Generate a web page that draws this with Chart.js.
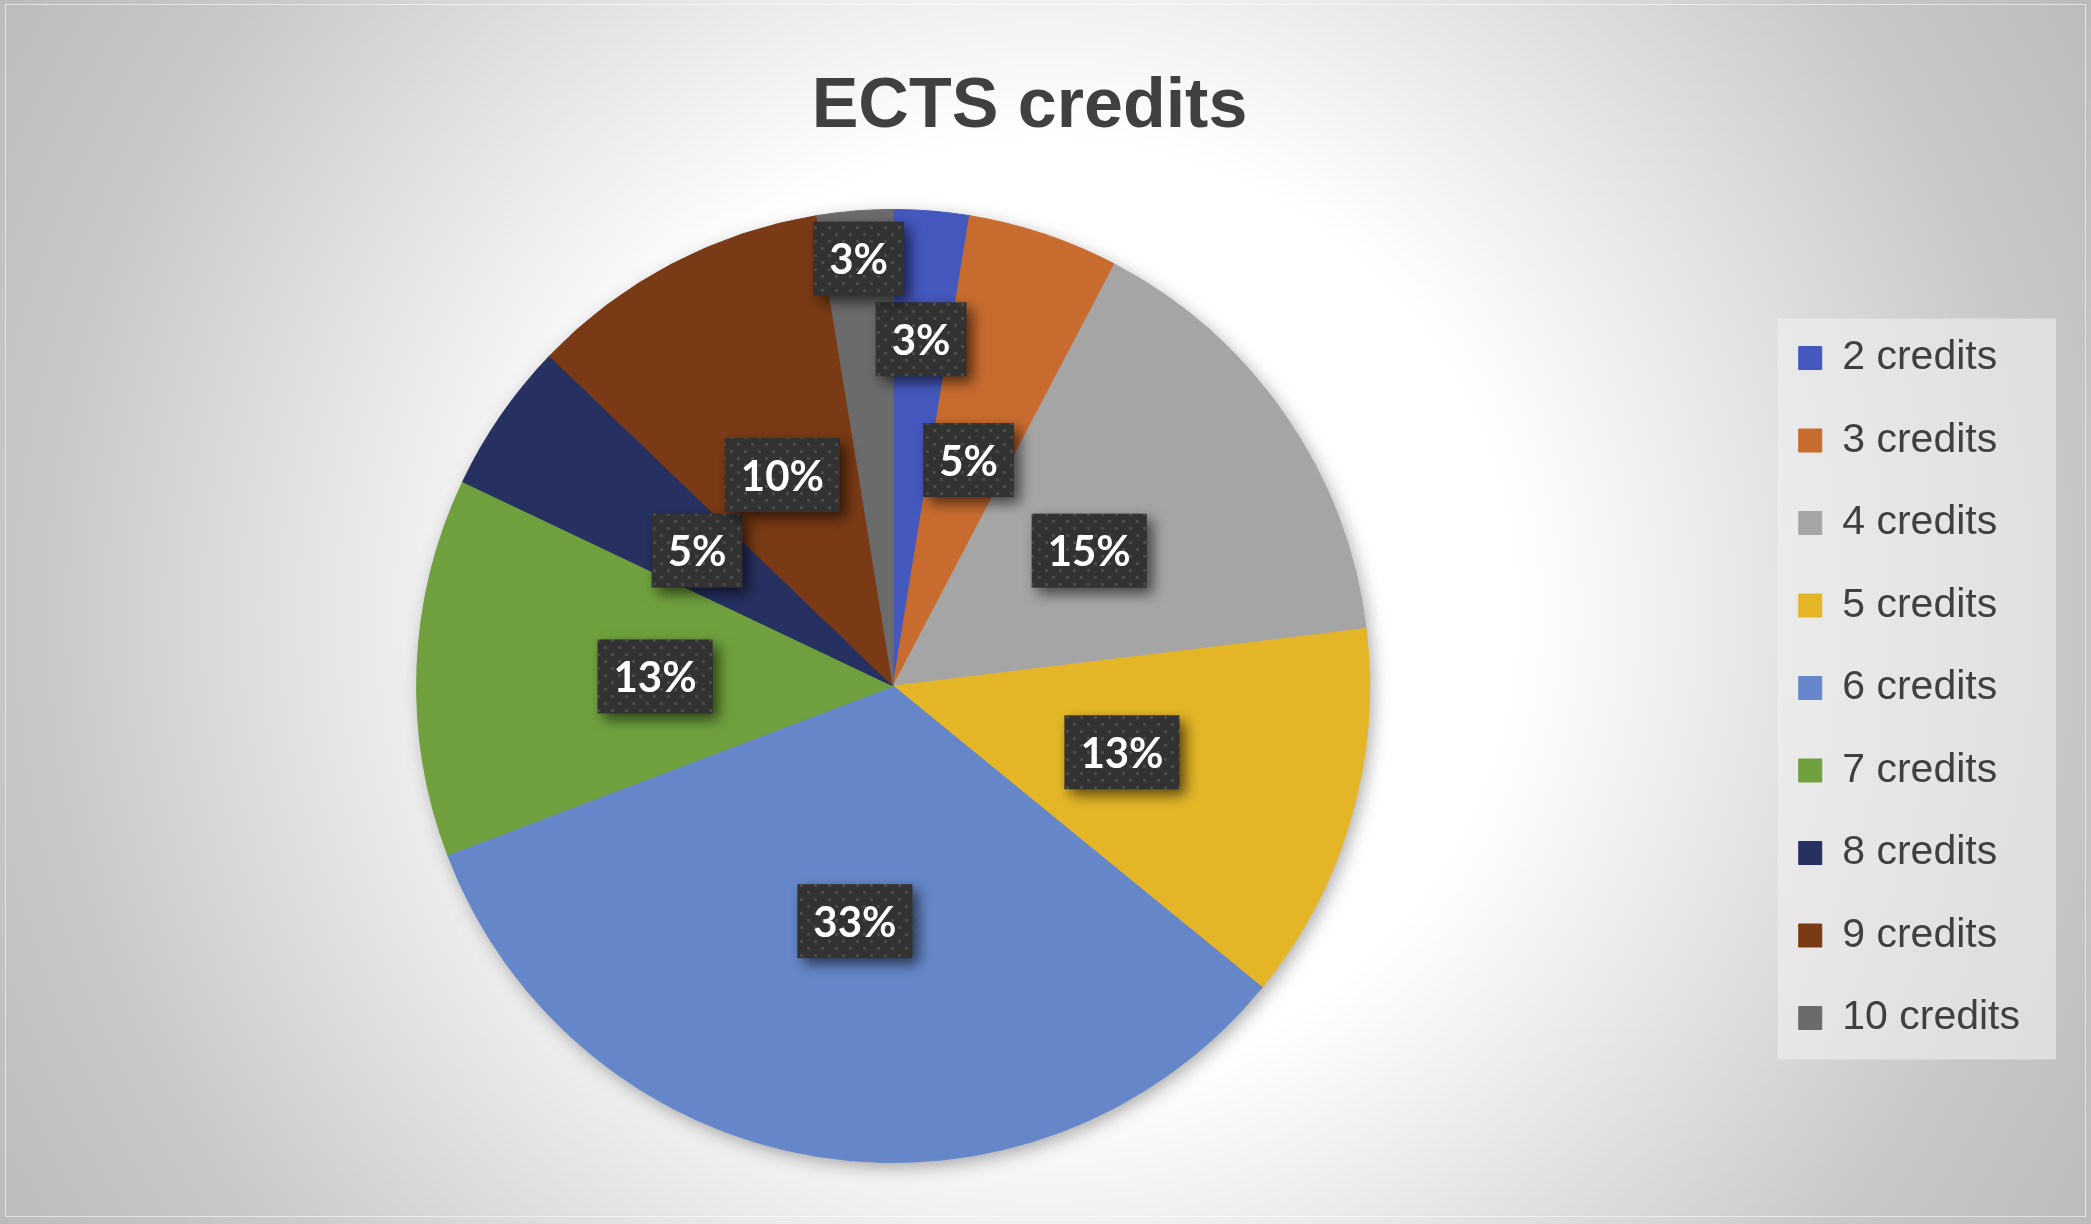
<!DOCTYPE html>
<html>
<head>
<meta charset="utf-8">
<script src="https://cdn.jsdelivr.net/npm/chart.js@4.4.1/dist/chart.umd.min.js"></script>
<style>
  html, body { margin: 0; padding: 0; background: #d6d6d6; }
  #wrap {
    position: relative;
    width: 2091px;
    height: 1224px;
    background: radial-gradient(circle at 50% 50%, #ffffff 0px, #ffffff 470px, #c8c8c8 1000px, #bbbbbb 1220px);
  }
  #frame {
    position: absolute; left: 5px; top: 4px; right: 5px; bottom: 7px;
    border: 1px solid rgba(255,255,255,0.55);
    pointer-events: none;
  }
  canvas { position: absolute; left: 0; top: 0; }
</style>
</head>
<body>
<div id="wrap">
  <canvas id="pie" width="2091" height="1224"></canvas>
  <div id="frame"></div>
</div>
<script>
// --- Data ---
const labels = ['2 credits', '3 credits', '4 credits', '5 credits', '6 credits', '7 credits', '8 credits', '9 credits', '10 credits'];
const courses = [1, 2, 6, 5, 13, 5, 2, 4, 1];
const sliceColors = ['#4558be', '#c86b2f', '#a5a5a5', '#e4b627', '#6587c9', '#6fa03d', '#263162', '#7a3a15', '#6b6b6b'];

// label distance from centre, as a fraction of the radius
const labelRadius = [0.73, 0.5, 0.5, 0.5, 0.5, 0.5, 0.5, 0.5, 0.9];

// dark dotted texture for the data label boxes
function makeDotPattern(ctx) {
  const c = document.createElement('canvas');
  c.width = 14; c.height = 14;
  const g = c.getContext('2d');
  g.fillStyle = '#323232';
  g.fillRect(0, 0, 14, 14);
  g.fillStyle = '#4a4a4a';
  g.fillRect(2, 2, 3, 3);
  g.fillRect(9, 9, 3, 3);
  return ctx.createPattern(c, 'repeat');
}

const pieShadow = {
  id: 'pieShadow',
  beforeDatasetsDraw(chart) {
    const arc = chart.getDatasetMeta(0).data[0];
    if (!arc) return;
    const { x, y, outerRadius } = arc.getProps(['x', 'y', 'outerRadius'], true);
    const ctx = chart.ctx;
    ctx.save();
    ctx.shadowColor = 'rgba(0,0,0,0.35)';
    ctx.shadowBlur = 18;
    ctx.shadowOffsetX = 4;
    ctx.shadowOffsetY = 5;
    ctx.fillStyle = '#888';
    ctx.beginPath();
    ctx.arc(x, y, outerRadius - 1, 0, Math.PI * 2);
    ctx.fill();
    ctx.restore();
  }
};

const legendBox = {
  id: 'legendBox',
  beforeDraw(chart) {
    const boxes = chart.legend && chart.legend.legendHitBoxes;
    if (!boxes || !boxes.length) return;
    let l = Infinity, t = Infinity, r = -Infinity, b = -Infinity;
    boxes.forEach(h => {
      l = Math.min(l, h.left); t = Math.min(t, h.top);
      r = Math.max(r, h.left + h.width); b = Math.max(b, h.top + h.height);
    });
    const ctx = chart.ctx;
    ctx.save();
    ctx.fillStyle = 'rgba(240,240,240,0.6)';
    ctx.fillRect(l - 21, t - 19, (r - l) + 57, (b - t) + 40);
    ctx.restore();
  }
};

const boxLabels = {
  id: 'boxLabels',
  afterDatasetsDraw(chart) {
    const ctx = chart.ctx;
    const meta = chart.getDatasetMeta(0);
    const data = chart.data.datasets[0].data;
    const total = data.reduce((a, b) => a + b, 0);
    const pattern = makeDotPattern(ctx);
    ctx.save();
    ctx.font = 'bold 42px Lato, "Open Sans", sans-serif';
    ctx.textAlign = 'center';
    ctx.textBaseline = 'middle';
    meta.data.forEach((arc, i) => {
      const { x, y, startAngle, endAngle, outerRadius } =
        arc.getProps(['x', 'y', 'startAngle', 'endAngle', 'outerRadius'], true);
      const mid = (startAngle + endAngle) / 2;
      const r = outerRadius * labelRadius[i];
      const cx = x + Math.cos(mid) * r;
      const cy = y + Math.sin(mid) * r;
      const text = Math.round(data[i] / total * 100) + '%';
      const w = ctx.measureText(text).width + 32;
      const h = 74;

      ctx.save();
      ctx.shadowColor = 'rgba(0,0,0,0.6)';
      ctx.shadowBlur = 14;
      ctx.shadowOffsetX = 6;
      ctx.shadowOffsetY = 6;
      ctx.fillStyle = pattern;
      ctx.fillRect(cx - w / 2, cy - h / 2, w, h);
      ctx.restore();

      ctx.fillStyle = '#ffffff';
      ctx.fillText(text, cx, cy + 2);
    });
    ctx.restore();
  }
};

const ctx = document.getElementById('pie').getContext('2d');
new Chart(ctx, {
  type: 'pie',
  data: {
    labels: labels,
    datasets: [{
      data: courses,
      backgroundColor: sliceColors,
      borderColor: sliceColors,
      borderWidth: 1
    }]
  },
  options: {
    responsive: false,
    animation: false,
    layout: { padding: { left: 29, right: 61, top: 0, bottom: 61 } },
    plugins: {
      tooltip: { enabled: false },
      title: {
        display: true,
        text: 'ECTS credits',
        color: '#404040',
        font: { family: '"Liberation Sans", Arial, sans-serif', size: 70, weight: 'bold', lineHeight: 1.2 },
        padding: { top: 66, bottom: 59 }
      },
      legend: {
        position: 'right',
        align: 'center',
        fullSize: false,
        title: {
          display: true,
          text: ' ',
          font: { size: 4, lineHeight: 1 },
          padding: 0
        },
        labels: {
          color: '#404040',
          font: { family: '"Liberation Sans", Arial, sans-serif', size: 41 },
          boxWidth: 23,
          boxHeight: 23,
          padding: 41.5
        }
      }
    }
  },
  plugins: [legendBox, pieShadow, boxLabels]
});
</script>
</body>
</html>
